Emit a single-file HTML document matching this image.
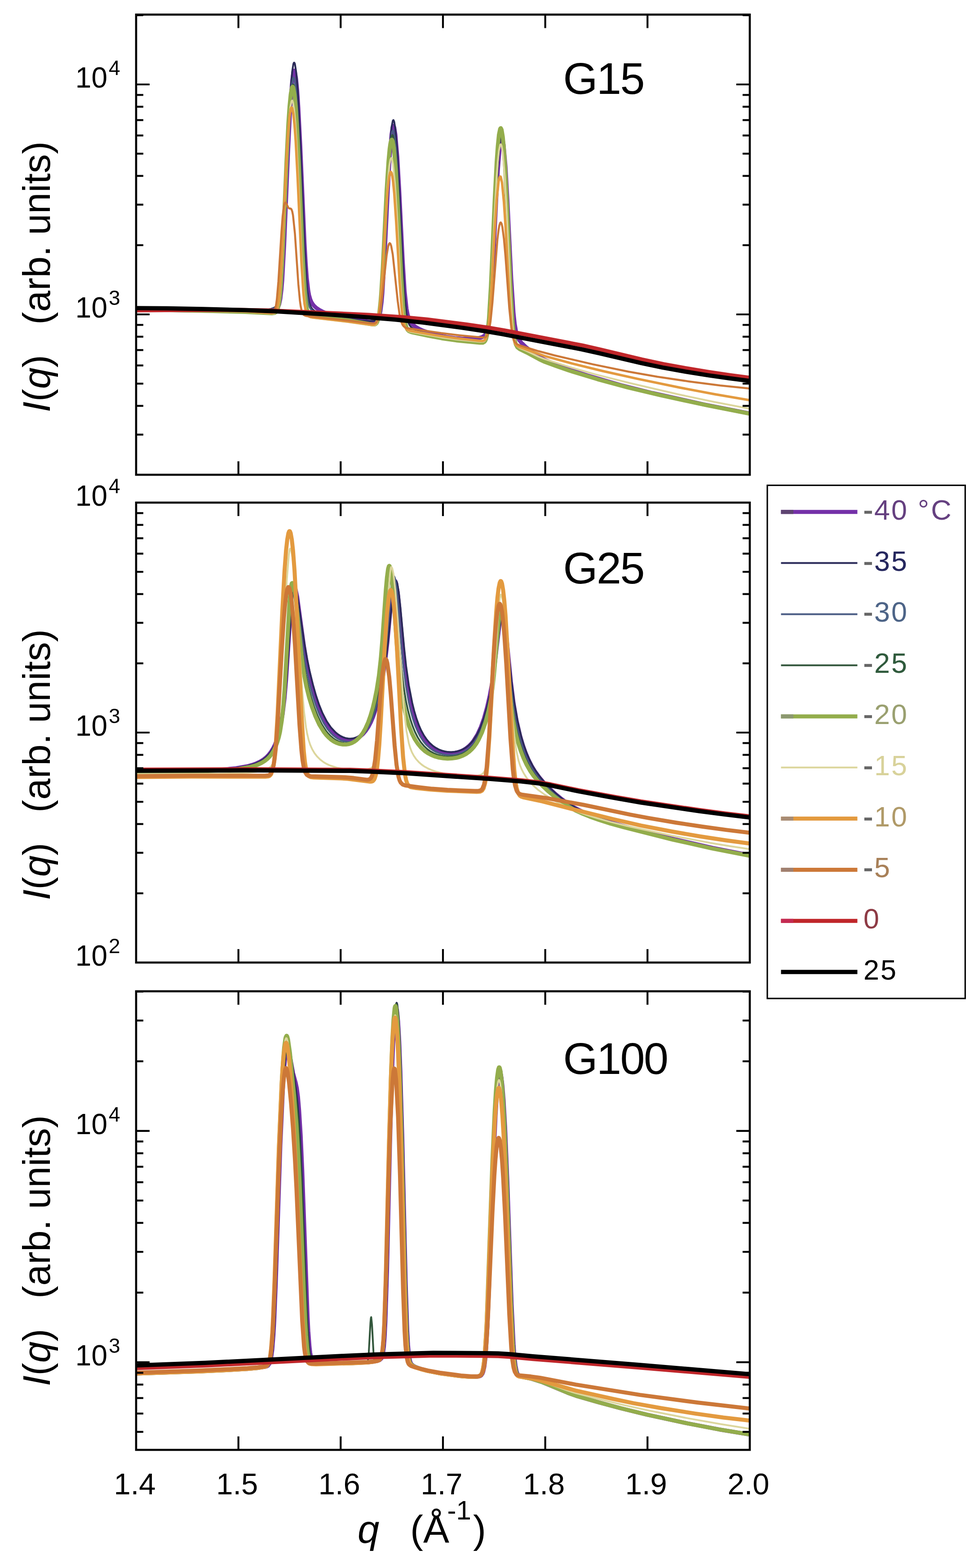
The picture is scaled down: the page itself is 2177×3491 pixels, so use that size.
<!DOCTYPE html><html><head><meta charset="utf-8"><title>I(q) vs q</title>
<style>html,body{margin:0;padding:0;background:#fff;overflow:hidden;width:2177px;height:3491px;}svg{display:block;}text{font-family:'Liberation Sans', Arial, Helvetica, sans-serif;}</style></head><body>
<svg width="2177" height="3491" viewBox="0 0 2177 3491">
<rect width="2177" height="3491" fill="#fff"/>
<defs>
<clipPath id="c0"><rect x="303.0" y="32.5" width="1366.0" height="1024.5"/></clipPath>
<clipPath id="c1"><rect x="303.0" y="1119.0" width="1366.0" height="1024.0"/></clipPath>
<clipPath id="c2"><rect x="303.0" y="2207.0" width="1366.0" height="1021.0"/></clipPath>
</defs>
<polyline clip-path="url(#c0)" points="303.0,689.9 385.0,690.4 581.3,693.6 597.5,693.0 608.6,691.5 614.6,689.3 618.0,685.8 621.4,677.7 624.0,665.4 626.6,644.0 628.3,623.3 632.5,546.4 641.1,340.1 645.4,252.1 647.9,211.0 650.5,180.1 653.0,161.2 653.9,158.3 654.7,157.3 655.6,158.0 656.5,160.1 659.0,175.0 661.6,202.0 664.1,240.2 668.4,324.4 677.8,540.5 680.4,585.8 682.9,619.6 686.3,648.2 688.0,657.2 690.6,666.5 693.2,672.6 696.6,678.0 700.0,681.9 705.1,686.3 711.1,690.3 717.9,693.8 726.5,697.3 735.9,700.2 755.5,704.8 802.4,713.4 822.1,716.4 833.2,717.0 836.6,716.3 839.2,714.8 842.6,709.9 845.1,701.8 846.8,693.0 849.4,672.7 851.1,653.3 855.4,584.4 863.1,425.8 867.3,350.9 871.6,299.1 874.2,282.7 875.0,280.6 875.9,280.2 877.6,283.9 880.1,299.4 884.4,349.6 888.7,424.5 896.4,580.6 900.6,647.5 904.9,687.6 907.5,701.1 910.9,711.7 914.3,717.8 918.6,722.6 924.5,727.3 933.1,732.3 942.5,736.5 953.6,740.5 966.4,744.3 980.9,747.7 997.1,750.8 1012.5,752.9 1027.8,754.2 1043.2,754.6 1055.2,754.2 1065.4,752.8 1073.1,750.6 1078.2,747.4 1080.8,744.4 1082.5,741.4 1085.9,730.6 1088.5,716.0 1091.0,692.9 1096.1,616.2 1104.7,440.9 1108.1,380.5 1112.4,327.0 1114.9,309.9 1116.6,305.8 1117.5,306.1 1118.3,307.8 1120.9,321.6 1125.2,370.3 1129.4,444.5 1138.0,620.6 1143.1,697.5 1145.7,721.0 1149.1,740.3 1153.3,752.7 1155.9,757.2 1160.2,762.7 1170.4,772.4 1184.1,783.3 1197.7,792.8 1210.5,800.1 1229.3,808.4 1252.4,817.5 1278.0,826.5 1307.0,835.9 1381.3,857.4 1452.1,875.0 1566.6,900.4 1669.0,920.5" fill="none" stroke="#7430a8" stroke-width="9.0" stroke-linejoin="round"/>
<polyline clip-path="url(#c0)" points="303.0,689.8 378.1,690.2 516.4,692.1 569.4,691.8 589.0,690.4 602.7,687.9 607.8,686.2 612.1,684.0 614.6,681.9 617.2,678.7 620.6,670.4 623.2,658.5 625.7,638.4 628.3,606.7 632.5,525.6 641.1,315.0 645.4,227.0 647.9,187.1 650.5,158.5 653.0,142.5 653.9,140.1 654.7,139.4 655.6,140.1 656.5,142.5 659.0,158.5 661.6,187.2 664.1,227.2 668.4,315.3 677.8,546.2 682.1,621.7 684.6,649.9 688.0,671.7 689.7,677.9 692.3,684.0 694.9,687.7 698.3,690.9 703.4,694.0 711.1,697.3 729.9,702.5 752.1,706.5 805.9,713.9 822.1,715.0 832.3,714.3 835.7,713.2 838.3,711.5 841.7,706.5 844.3,698.8 846.0,690.5 848.5,671.4 850.3,653.0 854.5,585.9 863.1,406.8 867.3,331.9 871.6,283.1 874.2,269.4 875.0,267.7 875.9,267.4 877.6,271.4 880.1,288.1 884.4,341.1 888.7,419.5 896.4,584.7 900.6,656.5 904.9,698.7 907.5,712.4 910.0,720.5 912.6,725.3 915.1,728.3 919.4,731.6 924.5,734.3 942.5,741.1 966.4,747.6 996.2,753.7 1025.3,757.8 1073.1,762.7 1077.4,762.5 1080.8,760.7 1082.5,758.5 1084.2,754.9 1086.7,744.8 1089.3,726.6 1091.0,708.3 1095.3,639.2 1103.8,449.9 1108.1,371.0 1112.4,319.7 1114.9,304.3 1116.6,300.7 1117.5,301.0 1118.3,302.5 1120.9,315.4 1123.5,340.1 1126.0,376.0 1130.3,456.9 1138.8,648.6 1143.1,718.1 1144.8,736.4 1147.4,755.1 1149.9,765.8 1151.6,770.1 1154.2,774.0 1159.3,777.8 1173.8,785.1 1199.4,799.1 1213.1,805.4 1239.6,815.3 1267.7,825.0 1332.6,844.8 1399.2,862.9 1471.8,880.1 1575.9,902.7 1669.0,920.9" fill="none" stroke="#2a2a58" stroke-width="4.0" stroke-linejoin="round"/>
<polyline clip-path="url(#c0)" points="303.0,689.8 381.5,690.3 520.7,692.5 570.2,692.4 589.0,691.3 602.7,689.1 611.2,686.0 613.8,684.1 616.3,681.2 619.7,673.6 622.3,662.7 624.9,644.0 627.4,614.6 631.7,538.7 640.2,338.1 644.5,253.9 647.1,215.9 649.6,189.1 652.2,174.8 653.0,173.0 653.9,172.7 655.6,176.8 658.2,194.1 662.4,249.4 666.7,332.3 676.1,552.4 680.4,625.3 682.9,652.8 686.3,674.1 689.7,684.6 692.3,688.8 695.7,692.2 700.0,694.9 706.8,697.9 724.8,702.9 741.8,706.2 787.1,713.6 829.8,721.9 834.0,722.3 837.4,721.6 840.0,719.4 841.7,716.4 844.3,707.9 846.0,698.4 848.5,676.2 850.3,655.1 853.7,598.0 861.4,435.6 865.6,359.2 869.9,309.1 872.5,294.0 874.2,290.5 875.0,290.7 875.9,292.3 878.4,304.9 881.0,329.1 883.6,364.2 887.8,442.8 895.5,608.1 899.8,677.4 901.5,696.3 904.0,715.9 905.7,724.2 908.3,731.7 910.0,734.7 912.6,737.2 918.6,739.8 955.3,747.6 986.0,753.4 1017.6,757.8 1069.7,762.9 1076.5,762.7 1079.9,760.7 1081.6,758.2 1083.3,754.1 1085.9,743.0 1088.5,723.2 1090.2,703.6 1094.4,631.0 1102.1,457.7 1106.4,375.3 1108.9,338.3 1111.5,312.4 1114.1,298.2 1114.9,296.2 1115.8,295.5 1116.6,296.2 1117.5,298.3 1120.0,312.5 1122.6,338.6 1125.2,375.8 1129.4,458.7 1138.0,651.8 1142.2,720.3 1143.9,738.2 1146.5,756.2 1149.1,766.4 1150.8,770.4 1153.3,774.1 1158.5,777.8 1173.0,784.9 1200.3,799.8 1213.1,805.7 1240.4,815.8 1268.6,825.4 1333.5,845.2 1400.1,863.2 1472.6,880.4 1576.8,903.0 1669.0,920.9" fill="none" stroke="#4a5c84" stroke-width="4.0" stroke-linejoin="round"/>
<polyline clip-path="url(#c0)" points="303.0,690.0 379.0,690.6 466.1,692.3 547.2,694.5 606.9,697.4 612.9,696.8 616.3,694.2 618.0,691.4 619.7,686.6 622.3,673.9 624.9,651.4 626.6,629.3 630.0,567.5 638.5,362.3 642.8,274.9 645.4,235.6 647.9,207.6 650.5,191.8 652.2,188.1 653.0,188.3 653.9,189.9 656.5,203.1 659.0,228.5 661.6,265.5 665.8,349.8 675.2,575.6 679.5,648.1 681.2,666.7 683.8,685.2 686.3,695.3 688.0,699.0 690.6,702.1 693.2,703.6 697.4,704.6 771.7,712.7 794.8,716.2 830.6,722.7 834.0,722.8 836.6,722.1 839.2,719.7 840.9,716.6 843.4,707.9 845.1,698.2 848.5,665.9 852.8,598.0 860.5,438.6 864.8,364.6 869.0,316.9 871.6,303.2 872.5,301.3 873.3,300.6 874.2,301.3 875.0,303.3 877.6,317.2 881.8,365.2 886.1,439.9 894.6,618.7 898.1,673.1 899.8,692.9 902.3,713.7 904.0,722.7 906.6,731.0 908.3,734.2 910.9,737.1 916.8,739.8 951.9,747.2 982.6,753.0 1015.9,757.9 1069.7,763.1 1076.5,762.9 1079.9,760.7 1081.6,758.2 1083.3,754.0 1085.9,742.6 1088.5,722.3 1090.2,702.3 1094.4,628.5 1102.1,453.3 1106.4,370.5 1108.9,333.3 1111.5,307.3 1114.1,293.1 1114.9,291.1 1115.8,290.4 1116.6,291.1 1117.5,293.2 1120.0,307.4 1122.6,333.6 1125.2,370.9 1129.4,454.3 1138.0,649.5 1142.2,719.2 1143.9,737.4 1146.5,755.8 1149.1,766.3 1150.8,770.4 1153.3,774.2 1158.5,777.9 1173.0,785.1 1200.3,799.9 1213.1,805.8 1239.6,815.6 1267.7,825.3 1332.6,845.0 1399.2,863.1 1471.8,880.3 1575.9,902.9 1669.0,921.0" fill="none" stroke="#33573c" stroke-width="4.0" stroke-linejoin="round"/>
<polyline clip-path="url(#c0)" points="303.0,690.0 378.1,690.5 464.4,692.2 546.3,694.5 606.1,697.4 612.1,696.6 615.5,693.9 618.0,688.6 620.6,677.9 623.2,658.3 624.9,638.7 629.1,564.0 637.7,360.2 641.9,274.9 644.5,236.9 647.1,210.3 649.6,195.9 650.5,193.8 651.3,193.1 652.2,193.8 653.0,195.9 655.6,210.4 658.2,237.0 660.7,275.1 665.0,360.7 673.5,565.9 677.8,641.9 680.4,670.0 682.9,687.0 685.5,696.1 687.2,699.5 689.7,702.3 693.2,703.9 697.4,704.7 776.0,713.3 829.8,722.6 833.2,722.6 835.7,721.8 838.3,719.4 840.0,716.2 842.6,707.3 844.3,697.5 846.8,675.0 848.5,654.0 852.0,597.8 860.5,425.8 864.8,358.8 867.3,331.6 869.0,319.6 870.7,312.7 871.6,311.2 872.5,311.0 874.2,314.5 876.7,329.5 881.0,379.1 885.3,454.3 892.9,612.9 897.2,679.4 898.9,697.5 901.5,716.3 903.2,724.4 905.7,731.7 907.5,734.6 910.0,737.1 916.0,739.6 953.6,747.6 983.4,753.2 1015.9,757.9 1068.0,762.9 1074.8,762.9 1078.2,761.1 1079.9,759.0 1081.6,755.3 1084.2,745.2 1086.7,726.7 1088.5,708.2 1092.7,637.5 1101.3,442.7 1105.5,361.0 1108.1,324.9 1110.6,300.0 1113.2,287.2 1114.1,285.6 1114.9,285.4 1116.6,289.0 1119.2,304.7 1121.7,332.2 1124.3,370.9 1128.6,456.2 1136.3,635.0 1140.5,710.3 1143.1,739.0 1145.7,756.6 1148.2,766.6 1151.6,773.1 1156.8,777.1 1172.1,784.6 1200.3,799.9 1213.1,805.8 1239.6,815.6 1266.9,825.0 1330.1,844.3 1397.5,862.6 1470.1,879.9 1575.1,902.7 1669.0,921.0" fill="none" stroke="#93ad4c" stroke-width="9.0" stroke-linejoin="round"/>
<polyline clip-path="url(#c0)" points="303.0,690.0 392.6,690.7 496.8,693.0 552.3,694.8 606.1,698.3 611.2,697.7 614.6,695.2 616.3,692.4 618.0,687.7 620.6,675.3 623.2,653.7 624.9,632.6 628.3,574.1 636.8,380.8 641.1,299.4 643.6,263.4 646.2,238.6 648.8,225.7 649.6,224.1 650.5,223.9 652.2,227.6 654.7,243.2 657.3,270.6 659.9,309.1 664.1,393.9 671.8,570.7 676.1,644.4 678.7,672.1 681.2,689.1 682.9,695.9 684.6,700.4 686.3,703.2 688.9,705.5 692.3,706.9 696.6,707.7 772.6,716.8 828.1,724.8 832.3,724.8 834.9,724.1 837.4,721.9 839.2,719.1 841.7,711.3 843.4,702.7 846.0,682.9 847.7,664.3 851.1,614.2 862.2,416.6 866.5,369.5 869.0,355.2 870.7,351.9 871.6,352.1 872.5,353.6 875.0,365.6 879.3,409.4 883.6,477.8 891.2,622.9 895.5,683.5 897.2,700.1 899.8,717.4 901.5,724.9 904.0,731.8 905.7,734.4 908.3,736.8 914.3,739.1 983.4,751.4 1016.7,755.9 1068.8,761.0 1075.6,760.8 1079.1,758.9 1080.8,756.6 1082.5,752.7 1085.0,742.3 1087.6,723.8 1089.3,705.5 1093.6,637.4 1101.3,473.1 1105.5,394.7 1108.1,359.7 1110.6,335.5 1113.2,322.9 1114.1,321.4 1114.9,321.2 1116.6,324.8 1119.2,340.1 1123.5,390.7 1127.7,468.2 1136.3,651.9 1140.5,718.2 1142.2,735.7 1144.8,753.5 1147.4,763.7 1149.1,767.8 1151.6,771.4 1156.8,774.9 1172.1,781.5 1199.4,794.4 1211.4,799.2 1266.0,816.7 1325.8,833.6 1402.6,853.0 1511.1,878.2 1590.5,895.0 1669.0,910.0" fill="none" stroke="#dcd69c" stroke-width="4.0" stroke-linejoin="round"/>
<polyline clip-path="url(#c0)" points="303.0,689.0 392.6,689.7 496.8,692.0 552.3,693.8 605.2,697.2 610.4,696.6 613.8,694.1 615.5,691.3 617.2,686.6 619.7,674.4 622.3,653.1 624.0,632.5 627.4,575.4 636.0,387.8 640.2,309.3 644.5,258.2 647.1,242.8 648.8,239.3 649.6,239.5 650.5,241.1 653.0,253.9 655.6,278.5 658.2,314.1 662.4,394.5 671.0,583.6 675.2,651.1 677.8,675.8 680.4,690.6 682.9,698.7 684.6,701.7 687.2,704.2 690.6,705.7 695.7,706.7 773.4,715.8 827.2,723.1 831.5,723.2 834.0,722.5 836.6,720.5 838.3,717.9 840.9,710.9 842.6,703.2 845.1,685.5 846.8,668.7 850.3,623.3 858.8,478.1 862.2,430.1 864.8,404.0 866.5,392.1 868.2,384.9 869.0,383.1 869.9,382.6 871.6,385.1 873.3,392.4 875.0,404.4 877.6,430.7 881.8,493.1 889.5,627.1 893.8,683.5 895.5,699.1 898.1,715.4 899.8,722.5 902.3,729.2 905.7,733.5 908.3,735.0 911.7,736.2 969.8,746.2 1012.5,752.5 1067.1,758.7 1073.9,759.1 1078.2,757.7 1079.9,756.0 1081.6,753.2 1084.2,745.7 1086.7,731.9 1089.3,709.7 1093.6,651.3 1101.3,511.2 1105.5,445.5 1109.8,404.4 1111.5,396.2 1113.2,392.9 1114.1,393.1 1114.9,394.6 1117.5,406.5 1121.7,449.8 1125.2,502.4 1133.7,659.5 1138.0,718.3 1140.5,740.8 1143.1,754.9 1145.7,763.0 1147.4,766.3 1149.9,769.2 1155.9,772.4 1212.2,792.6 1273.7,809.4 1341.2,826.0 1418.9,843.4 1513.6,863.0 1591.3,877.7 1669.0,891.0" fill="none" stroke="#e39a3f" stroke-width="5.5" stroke-linejoin="round"/>
<polyline clip-path="url(#c0)" points="303.0,688.0 390.1,688.7 490.0,690.9 549.7,692.7 602.7,696.0 606.1,695.8 608.6,694.6 611.2,691.1 612.9,686.3 614.6,678.3 616.3,666.1 619.7,626.7 626.6,515.6 629.1,482.3 631.7,460.8 633.4,453.4 635.1,450.8 636.8,452.1 641.9,462.4 643.6,463.9 647.1,464.4 648.8,466.1 650.5,470.6 652.2,479.1 656.5,520.2 664.1,632.4 667.6,669.5 669.3,681.8 671.8,693.3 674.4,699.2 676.9,701.8 680.4,703.3 685.5,704.1 775.1,713.8 826.3,720.0 833.2,719.9 837.4,717.8 840.0,714.4 842.6,708.3 846.8,689.1 851.1,656.7 860.5,569.4 863.9,549.1 865.6,543.5 867.3,541.3 869.0,542.6 870.7,547.2 874.2,566.1 885.3,670.2 889.5,700.7 893.8,718.1 896.4,723.7 898.9,726.9 903.2,729.6 909.2,731.1 981.7,741.6 1021.9,746.4 1072.2,751.3 1079.1,751.1 1081.6,749.9 1083.3,748.3 1086.7,741.6 1089.3,731.8 1091.9,715.9 1096.1,674.3 1107.2,533.2 1109.8,511.8 1111.5,502.1 1113.2,496.6 1114.1,495.4 1114.9,495.3 1116.6,498.2 1118.3,505.4 1121.7,531.6 1125.2,570.8 1133.7,686.8 1138.0,728.6 1140.5,744.5 1143.1,754.7 1146.5,762.2 1150.8,766.3 1156.8,768.9 1198.6,781.8 1234.4,791.2 1319.8,811.1 1399.2,827.5 1463.2,838.8 1533.3,849.2 1603.3,858.2 1669.0,865.0" fill="none" stroke="#cc7838" stroke-width="4.5" stroke-linejoin="round"/>
<polyline clip-path="url(#c0)" points="303.0,691.0 399.5,690.2 531.0,690.0 594.1,691.1 746.1,697.4 820.4,701.1 898.1,706.2 951.0,711.2 1038.9,722.5 1086.7,729.5 1121.7,735.4 1296.8,769.2 1336.0,778.1 1429.1,800.5 1476.9,810.7 1528.1,820.0 1577.6,828.2 1624.6,835.2 1669.0,841.0" fill="none" stroke="#c0262a" stroke-width="9.0" stroke-linejoin="round"/>
<polyline clip-path="url(#c0)" points="303.0,686.0 372.2,686.5 452.4,688.0 547.2,690.5 610.4,693.1 723.9,699.7 799.9,704.9 879.3,711.5 941.6,718.1 1027.8,729.6 1082.5,737.8 1116.6,743.6 1295.1,777.8 1333.5,786.3 1427.4,808.4 1475.2,818.4 1526.4,827.5 1576.8,835.6 1623.8,842.3 1669.0,848.0" fill="none" stroke="#000000" stroke-width="9.5" stroke-linejoin="round"/>
<polyline clip-path="url(#c1)" points="303.0,1719.2 385.8,1717.9 446.4,1716.2 491.7,1713.7 525.0,1710.5 550.6,1706.0 560.8,1703.2 570.2,1699.9 578.8,1695.8 585.6,1691.7 592.4,1686.3 598.4,1680.1 603.5,1673.4 607.8,1666.4 612.1,1657.7 616.3,1646.8 623.2,1622.7 629.1,1590.1 633.4,1554.4 636.8,1514.2 648.8,1331.9 651.3,1309.9 652.2,1305.9 653.0,1303.7 653.9,1303.4 655.6,1305.0 657.3,1309.1 661.6,1328.8 676.1,1435.8 681.2,1466.8 686.3,1492.7 693.2,1521.8 700.0,1546.6 707.7,1570.0 715.4,1589.1 724.8,1607.6 734.1,1621.6 744.4,1632.8 749.5,1637.1 755.5,1641.1 761.5,1644.1 767.4,1646.1 773.4,1647.3 779.4,1647.5 785.4,1646.9 791.3,1645.2 797.3,1642.5 802.4,1639.1 808.4,1633.8 814.4,1626.8 820.4,1617.7 825.5,1607.9 830.6,1595.7 835.7,1580.8 844.3,1548.4 852.0,1509.1 857.9,1468.6 862.2,1431.1 870.7,1339.6 874.2,1310.2 876.7,1297.0 878.4,1293.3 879.3,1293.1 880.1,1294.0 881.8,1298.7 885.3,1319.2 888.7,1351.5 897.2,1448.4 901.5,1489.3 906.6,1527.1 913.4,1564.1 917.7,1582.2 922.8,1600.2 927.9,1614.8 933.1,1626.9 939.0,1638.3 945.9,1648.5 952.7,1656.5 960.4,1663.3 966.4,1667.5 973.2,1671.1 980.0,1673.8 987.7,1675.8 995.4,1677.0 1003.1,1677.2 1010.8,1676.6 1018.4,1675.0 1025.3,1672.8 1031.2,1670.0 1037.2,1666.3 1043.2,1661.6 1048.3,1656.5 1053.4,1650.3 1062.8,1635.4 1070.5,1618.6 1077.4,1599.2 1084.2,1574.7 1090.2,1548.4 1095.3,1521.3 1099.5,1493.5 1112.4,1384.9 1115.8,1368.1 1117.5,1365.0 1118.3,1364.8 1120.0,1367.4 1121.7,1373.7 1125.2,1395.9 1137.1,1516.8 1143.1,1565.0 1149.9,1604.6 1157.6,1637.7 1163.6,1658.2 1169.6,1675.2 1176.4,1691.4 1183.2,1704.8 1190.9,1717.5 1200.3,1730.4 1210.5,1742.5 1222.5,1755.0 1236.1,1767.6 1249.8,1778.7 1263.5,1788.6 1277.1,1797.3 1289.1,1803.6 1307.0,1811.8 1325.8,1819.3 1345.4,1826.3 1370.2,1834.1 1400.1,1842.5 1503.4,1869.0 1587.0,1887.9 1669.0,1904.2" fill="none" stroke="#7430a8" stroke-width="9.0" stroke-linejoin="round"/>
<polyline clip-path="url(#c1)" points="303.0,1719.1 385.0,1717.8 445.6,1716.0 490.8,1713.5 525.0,1710.0 550.6,1705.5 560.8,1702.7 570.2,1699.3 578.8,1695.3 585.6,1691.1 592.4,1685.7 598.4,1679.6 603.5,1673.0 608.6,1664.6 612.9,1655.7 617.2,1644.6 624.0,1620.2 630.0,1587.9 634.3,1553.5 637.7,1515.4 649.6,1339.6 652.2,1316.6 653.9,1309.4 654.7,1308.4 656.5,1309.6 658.2,1312.9 662.4,1330.2 678.7,1439.5 683.8,1468.1 689.7,1496.6 696.6,1524.6 703.4,1548.5 710.2,1568.8 717.9,1587.7 727.3,1605.8 736.7,1619.6 747.0,1630.6 752.1,1634.8 758.0,1638.6 763.2,1641.1 769.1,1643.1 775.1,1644.3 781.1,1644.5 787.1,1643.7 792.2,1642.2 798.2,1639.5 803.3,1636.1 809.3,1630.9 815.3,1623.9 821.2,1614.8 826.3,1605.1 831.5,1593.0 836.6,1578.3 845.1,1546.4 852.0,1512.6 857.9,1475.4 863.9,1427.5 875.0,1319.1 878.4,1298.7 880.1,1294.0 881.0,1293.1 881.8,1293.3 882.7,1294.4 884.4,1299.6 887.8,1320.2 891.2,1351.4 899.8,1443.6 904.0,1482.8 910.0,1525.4 917.7,1565.2 922.0,1582.5 927.1,1599.8 932.2,1614.0 937.3,1625.7 943.3,1636.8 949.3,1645.7 956.1,1653.7 963.8,1660.7 969.8,1664.8 976.6,1668.5 983.4,1671.2 990.3,1673.0 997.1,1674.1 1004.8,1674.4 1012.5,1673.8 1019.3,1672.4 1026.1,1670.2 1032.1,1667.4 1038.1,1663.7 1043.2,1659.6 1048.3,1654.7 1053.4,1648.6 1062.8,1633.9 1070.5,1617.3 1077.4,1598.3 1084.2,1574.1 1090.2,1548.3 1095.3,1522.1 1100.4,1490.4 1113.2,1389.9 1116.6,1373.7 1118.3,1370.3 1119.2,1369.9 1120.9,1371.7 1122.6,1377.1 1126.0,1397.1 1138.8,1518.5 1144.8,1564.2 1152.5,1607.1 1161.0,1642.4 1167.0,1661.9 1173.0,1678.2 1179.8,1693.8 1186.6,1706.8 1194.3,1719.0 1203.7,1731.8 1214.0,1743.9 1225.9,1756.2 1238.7,1768.0 1252.4,1779.2 1266.0,1789.0 1279.7,1797.5 1293.4,1804.6 1310.4,1812.3 1329.2,1819.8 1348.8,1826.7 1373.6,1834.4 1403.5,1842.8 1459.8,1857.7 1505.1,1869.0 1587.9,1887.8 1669.0,1903.9" fill="none" stroke="#2a2a58" stroke-width="4.0" stroke-linejoin="round"/>
<polyline clip-path="url(#c1)" points="303.0,1719.4 386.7,1718.2 448.1,1716.5 493.4,1714.1 526.7,1711.0 552.3,1706.5 562.5,1703.8 571.9,1700.4 580.5,1696.4 587.3,1692.1 593.3,1687.3 599.3,1681.1 604.4,1674.3 608.6,1667.1 612.9,1658.1 616.3,1649.3 619.7,1638.4 623.2,1624.9 628.3,1596.6 631.7,1568.6 635.1,1529.4 647.1,1339.2 649.6,1313.7 651.3,1305.0 652.2,1303.4 653.9,1304.3 655.6,1307.9 657.3,1314.1 659.9,1327.7 674.4,1443.7 678.7,1471.7 682.9,1494.7 688.9,1521.5 695.7,1547.1 703.4,1571.2 711.1,1590.9 720.5,1609.9 729.9,1624.3 735.0,1630.6 741.0,1636.6 746.1,1640.8 752.1,1644.8 758.0,1647.8 764.9,1650.1 771.7,1651.3 777.7,1651.4 783.7,1650.5 789.6,1648.7 795.6,1645.9 800.7,1642.4 807.6,1636.2 814.4,1627.6 820.4,1617.8 825.5,1607.2 830.6,1594.1 835.7,1578.1 844.3,1543.3 850.3,1511.3 855.4,1476.0 860.5,1428.0 870.7,1311.0 874.2,1288.2 875.9,1283.4 876.7,1282.8 877.6,1283.4 879.3,1287.7 882.7,1308.4 886.1,1342.2 893.8,1436.7 898.1,1482.7 903.2,1524.6 910.0,1563.8 914.3,1582.4 919.4,1600.9 924.5,1616.0 929.7,1628.3 935.6,1640.0 942.5,1650.4 949.3,1658.6 957.0,1665.6 963.8,1670.5 970.6,1674.2 978.3,1677.2 986.0,1679.3 993.7,1680.6 1002.2,1681.0 1010.8,1680.4 1018.4,1679.0 1025.3,1677.0 1032.1,1674.0 1038.1,1670.5 1044.1,1666.0 1050.0,1660.2 1055.2,1654.1 1060.3,1646.7 1064.5,1639.2 1072.2,1622.5 1079.9,1600.2 1086.7,1574.9 1092.7,1547.4 1097.0,1522.9 1100.4,1498.4 1112.4,1387.0 1115.8,1368.4 1117.5,1365.0 1118.3,1364.8 1120.0,1367.6 1121.7,1374.2 1125.2,1397.9 1136.3,1517.7 1141.4,1563.2 1147.4,1601.3 1155.0,1636.4 1161.0,1657.5 1167.0,1675.0 1173.8,1691.5 1180.7,1705.2 1188.3,1718.0 1196.9,1729.8 1207.1,1742.0 1219.1,1754.4 1232.7,1767.0 1247.2,1778.8 1261.8,1789.3 1275.4,1797.9 1288.2,1804.7 1305.3,1812.4 1323.2,1819.5 1342.9,1826.5 1367.6,1834.2 1397.5,1842.6 1502.5,1869.3 1587.0,1888.4 1669.0,1904.5" fill="none" stroke="#4a5c84" stroke-width="4.0" stroke-linejoin="round"/>
<polyline clip-path="url(#c1)" points="303.0,1719.6 387.5,1718.4 449.0,1716.8 494.2,1714.6 528.4,1711.5 554.0,1707.1 564.2,1704.4 573.6,1701.1 581.3,1697.5 588.2,1693.2 594.1,1688.5 600.1,1682.3 605.2,1675.4 609.5,1668.0 613.8,1658.8 617.2,1649.6 623.2,1627.5 628.3,1597.2 631.7,1565.7 634.3,1533.4 646.2,1336.3 648.8,1311.9 650.5,1304.3 651.3,1303.3 653.0,1304.8 654.7,1309.2 659.0,1331.9 672.7,1451.6 676.1,1476.3 680.4,1501.3 685.5,1525.3 692.3,1551.3 699.1,1573.1 706.8,1593.2 716.2,1612.6 725.6,1627.2 730.7,1633.5 736.7,1639.6 741.8,1643.9 747.8,1647.9 753.8,1650.9 760.6,1653.2 767.4,1654.4 773.4,1654.5 780.2,1653.5 786.2,1651.7 792.2,1648.7 797.3,1645.2 804.2,1638.8 811.0,1630.1 817.0,1620.1 822.1,1609.3 827.2,1596.0 832.3,1579.7 837.4,1559.8 841.7,1540.0 847.7,1505.4 852.8,1464.6 857.1,1417.6 863.9,1328.4 867.3,1293.1 869.9,1277.3 871.6,1272.9 872.5,1272.7 873.3,1273.6 875.0,1279.0 878.4,1302.4 881.8,1339.5 889.5,1441.5 893.8,1489.9 898.1,1526.4 904.0,1562.7 908.3,1582.2 913.4,1601.3 918.6,1616.8 923.7,1629.5 929.7,1641.5 936.5,1652.2 944.2,1661.4 951.9,1668.5 958.7,1673.3 965.5,1677.0 973.2,1680.2 981.7,1682.6 990.3,1684.0 999.7,1684.5 1008.2,1684.1 1016.7,1682.7 1024.4,1680.5 1031.2,1677.6 1038.1,1673.7 1044.1,1669.3 1050.0,1663.6 1055.2,1657.6 1060.3,1650.2 1064.5,1642.8 1072.2,1626.2 1079.9,1604.0 1086.7,1578.8 1092.7,1550.7 1097.0,1524.2 1100.4,1496.3 1111.5,1381.9 1113.2,1370.3 1114.9,1362.7 1115.8,1360.6 1116.6,1359.7 1117.5,1359.9 1119.2,1363.5 1120.9,1371.2 1124.3,1397.6 1134.6,1516.8 1139.7,1566.1 1144.8,1601.0 1151.6,1633.8 1156.8,1652.9 1162.7,1671.4 1169.6,1688.7 1176.4,1703.0 1184.1,1716.3 1191.8,1727.3 1202.0,1739.8 1214.0,1752.3 1227.6,1765.0 1242.1,1776.9 1257.5,1788.2 1272.0,1797.5 1284.8,1804.5 1300.2,1811.5 1319.0,1819.1 1338.6,1826.0 1363.4,1833.8 1393.2,1842.2 1500.0,1869.3 1586.2,1888.6 1669.0,1904.9" fill="none" stroke="#33573c" stroke-width="4.0" stroke-linejoin="round"/>
<polyline clip-path="url(#c1)" points="303.0,1719.8 389.2,1718.6 451.6,1717.1 497.7,1714.9 531.0,1711.9 555.7,1707.8 566.0,1705.2 574.5,1702.2 582.2,1698.6 589.0,1694.5 595.0,1689.8 601.0,1683.6 605.2,1677.9 609.5,1670.8 613.8,1661.8 617.2,1652.6 620.6,1641.1 623.2,1630.0 627.4,1603.6 630.8,1570.2 633.4,1535.3 644.5,1339.4 647.9,1305.1 648.8,1300.9 649.6,1298.6 650.5,1298.2 652.2,1300.4 653.9,1305.8 657.3,1325.4 660.7,1354.6 671.0,1457.7 674.4,1485.1 677.8,1507.2 682.1,1529.0 688.0,1553.0 694.9,1575.3 701.7,1593.8 711.1,1614.0 720.5,1629.2 725.6,1635.8 731.6,1642.1 737.6,1647.2 743.5,1651.2 749.5,1654.1 756.3,1656.4 763.2,1657.6 770.0,1657.6 776.8,1656.5 782.8,1654.5 788.8,1651.3 793.9,1647.6 800.7,1641.0 807.6,1631.9 813.5,1621.4 819.5,1608.0 824.6,1593.5 829.8,1575.8 834.0,1558.0 838.3,1536.9 843.4,1504.4 847.7,1466.0 851.1,1424.5 858.8,1313.9 861.4,1285.0 863.9,1266.3 865.6,1260.5 866.5,1259.8 867.3,1260.4 869.0,1265.3 872.5,1289.0 875.9,1328.1 883.6,1439.4 887.8,1492.7 892.1,1532.0 897.2,1564.8 901.5,1585.0 905.7,1601.5 910.9,1617.6 916.8,1632.7 922.8,1644.7 929.7,1655.4 937.3,1664.7 945.0,1671.7 952.7,1677.1 960.4,1681.1 968.9,1684.5 977.5,1686.8 986.9,1688.3 996.2,1688.9 1005.6,1688.6 1015.0,1687.3 1022.7,1685.3 1030.4,1682.4 1037.2,1678.7 1044.1,1673.9 1050.0,1668.5 1055.2,1662.7 1060.3,1655.6 1065.4,1646.9 1073.1,1630.3 1080.8,1608.1 1087.6,1582.4 1092.7,1557.1 1096.1,1534.3 1099.5,1503.7 1110.6,1376.8 1113.2,1360.2 1114.9,1355.1 1115.8,1354.5 1117.5,1356.9 1119.2,1363.7 1122.6,1389.5 1133.7,1527.5 1138.0,1571.3 1142.2,1603.0 1148.2,1633.8 1153.3,1653.5 1159.3,1672.2 1165.3,1687.7 1172.1,1702.3 1179.8,1715.9 1187.5,1727.1 1196.9,1738.5 1207.1,1749.3 1220.8,1762.1 1236.1,1774.9 1252.4,1786.9 1267.7,1796.9 1280.5,1804.1 1294.2,1810.5 1313.0,1818.2 1333.5,1825.5 1359.1,1833.6 1389.0,1842.0 1497.4,1869.3 1584.5,1888.8 1669.0,1905.3" fill="none" stroke="#93ad4c" stroke-width="9.0" stroke-linejoin="round"/>
<polyline clip-path="url(#c1)" points="303.0,1723.6 472.0,1722.8 516.4,1721.9 548.0,1720.5 571.1,1718.3 587.3,1714.9 593.3,1712.9 598.4,1710.3 601.8,1707.8 605.2,1703.9 609.5,1694.8 612.9,1680.6 615.5,1663.3 618.0,1638.5 623.2,1564.6 633.4,1373.1 638.5,1290.3 642.8,1236.2 644.5,1223.9 645.4,1221.6 646.2,1221.6 647.9,1224.9 650.5,1237.1 653.0,1257.2 655.6,1284.2 659.9,1341.0 672.7,1537.2 676.9,1585.6 681.2,1619.5 683.8,1633.8 687.2,1648.0 690.6,1658.4 694.9,1668.0 700.0,1676.7 706.0,1684.4 712.8,1691.2 720.5,1697.0 727.3,1700.9 735.0,1704.5 752.1,1709.8 773.4,1713.5 796.5,1714.9 812.7,1713.9 819.5,1712.5 824.6,1710.7 828.1,1708.7 831.5,1705.4 834.0,1701.1 835.7,1696.9 838.3,1687.6 840.9,1673.1 845.1,1633.7 849.4,1573.5 858.8,1409.0 863.9,1329.4 868.2,1276.8 869.9,1264.8 870.7,1262.5 871.6,1262.6 873.3,1265.8 875.9,1277.8 880.1,1314.2 885.3,1378.6 897.2,1553.2 900.6,1592.0 904.9,1627.6 910.0,1654.5 913.4,1666.1 916.8,1674.6 921.1,1682.6 926.2,1690.0 932.2,1696.7 938.2,1702.0 945.0,1706.8 951.9,1710.6 960.4,1714.4 969.8,1717.7 992.0,1723.1 1017.6,1726.7 1044.1,1728.2 1055.2,1728.0 1063.7,1727.0 1068.8,1725.7 1073.1,1723.6 1076.5,1720.3 1079.1,1716.1 1082.5,1705.9 1085.0,1693.2 1087.6,1674.6 1090.2,1649.0 1094.4,1591.8 1108.1,1380.5 1112.4,1332.9 1114.1,1324.4 1114.9,1323.9 1116.6,1326.4 1119.2,1337.1 1123.5,1371.0 1127.7,1420.5 1140.5,1595.1 1144.8,1638.7 1149.1,1669.5 1154.2,1693.2 1157.6,1703.9 1161.0,1712.3 1165.3,1720.7 1171.3,1730.4 1178.1,1739.5 1184.9,1747.1 1196.9,1757.8 1212.2,1769.0 1230.2,1780.3 1249.8,1791.1 1266.9,1799.4 1284.0,1806.5 1305.3,1814.0 1329.2,1821.5 1359.9,1830.1 1394.9,1838.7 1493.1,1860.0 1584.5,1877.2 1627.2,1884.3 1669.0,1890.5" fill="none" stroke="#dcd69c" stroke-width="4.0" stroke-linejoin="round"/>
<polyline clip-path="url(#c1)" points="303.0,1730.0 426.8,1729.1 590.7,1729.2 595.8,1728.8 599.3,1727.8 601.8,1725.9 603.5,1723.6 606.9,1714.5 609.5,1701.3 613.8,1659.8 618.0,1589.2 628.3,1363.5 633.4,1270.0 636.8,1224.9 639.4,1201.4 641.9,1187.2 643.6,1183.0 644.5,1182.5 645.4,1183.0 647.1,1187.2 649.6,1201.5 652.2,1224.9 655.6,1270.0 660.7,1363.6 671.0,1589.7 676.1,1671.3 678.7,1696.2 681.2,1712.1 684.6,1723.3 686.3,1726.3 688.9,1728.9 692.3,1730.4 698.3,1731.1 758.9,1733.0 774.3,1734.0 823.8,1740.3 827.2,1740.1 829.8,1739.1 832.3,1736.5 834.0,1733.4 836.6,1725.3 839.2,1711.2 841.7,1689.2 844.3,1657.9 847.7,1603.0 856.2,1442.2 861.4,1365.9 865.6,1326.8 868.2,1315.7 869.9,1313.6 871.6,1315.7 874.2,1327.0 876.7,1347.6 879.3,1377.0 883.6,1443.1 892.9,1621.3 897.2,1685.2 901.5,1724.2 904.0,1737.1 906.6,1744.7 910.0,1749.8 912.6,1751.7 916.0,1752.9 926.2,1754.5 957.0,1757.7 995.4,1760.5 1061.1,1763.0 1068.8,1762.6 1073.1,1760.3 1076.5,1755.1 1079.9,1743.2 1082.5,1727.0 1085.0,1702.5 1089.3,1641.2 1099.5,1442.9 1104.7,1361.2 1107.2,1331.3 1109.8,1309.8 1112.4,1297.2 1114.1,1293.8 1114.9,1293.7 1115.8,1294.5 1117.5,1299.3 1120.0,1314.0 1122.6,1337.5 1125.2,1369.3 1130.3,1454.4 1139.7,1639.9 1144.8,1714.7 1147.4,1738.3 1149.9,1753.9 1153.3,1765.6 1156.8,1771.1 1160.2,1773.6 1164.4,1775.1 1207.1,1784.1 1276.3,1801.9 1365.9,1824.0 1427.4,1838.2 1494.0,1851.0 1557.2,1862.0 1614.4,1870.8 1669.0,1878.0" fill="none" stroke="#e39a3f" stroke-width="9.0" stroke-linejoin="round"/>
<polyline clip-path="url(#c1)" points="303.0,1728.0 421.7,1727.1 589.9,1727.1 597.5,1726.3 600.1,1725.1 602.7,1722.6 606.1,1715.8 608.6,1706.0 611.2,1690.2 613.8,1666.8 618.0,1609.7 627.4,1444.1 631.7,1379.1 634.3,1348.9 636.8,1326.4 639.4,1312.3 641.1,1307.8 641.9,1307.0 642.8,1307.1 644.5,1310.4 647.1,1322.6 649.6,1343.2 652.2,1371.8 656.5,1434.6 666.7,1614.5 671.0,1670.4 673.5,1693.0 676.1,1708.2 679.5,1719.6 682.9,1725.0 686.3,1727.2 692.3,1728.3 768.3,1730.4 787.1,1732.1 816.1,1736.0 819.5,1735.9 822.1,1735.2 825.5,1732.3 828.1,1727.5 830.6,1718.9 834.9,1692.6 839.2,1649.1 846.8,1548.6 851.1,1501.8 853.7,1482.2 855.4,1473.5 857.1,1468.4 857.9,1467.4 858.8,1467.2 860.5,1469.9 862.2,1476.3 866.5,1507.9 869.9,1546.4 878.4,1659.7 882.7,1703.0 887.0,1728.9 889.5,1737.5 892.1,1742.6 896.4,1746.7 902.3,1748.7 932.2,1752.7 962.1,1756.1 996.2,1758.6 1056.9,1761.0 1065.4,1760.9 1069.7,1759.7 1072.2,1757.8 1073.9,1755.5 1077.4,1746.9 1080.8,1729.6 1083.3,1708.3 1088.5,1641.4 1097.8,1476.3 1102.1,1412.6 1104.7,1383.3 1107.2,1361.8 1109.8,1348.7 1111.5,1344.8 1112.4,1344.3 1113.2,1344.8 1114.9,1348.7 1117.5,1361.9 1120.0,1383.5 1122.6,1413.0 1126.9,1477.0 1136.3,1643.7 1141.4,1712.0 1143.9,1734.0 1146.5,1748.7 1149.9,1759.9 1151.6,1763.1 1154.2,1766.0 1157.6,1768.0 1161.9,1769.1 1215.7,1776.8 1299.3,1792.0 1402.6,1813.7 1442.8,1821.2 1505.9,1831.7 1564.0,1840.5 1617.8,1847.9 1669.0,1854.0" fill="none" stroke="#cc7838" stroke-width="9.0" stroke-linejoin="round"/>
<polyline clip-path="url(#c1)" points="303.0,1713.5 548.0,1712.5 779.4,1713.8 826.3,1715.4 902.3,1719.1 1088.5,1731.6 1160.2,1737.3 1200.3,1741.8 1225.9,1746.3 1288.2,1759.4 1371.0,1774.7 1426.5,1784.2 1555.5,1803.3 1613.5,1810.9 1669.0,1817.5" fill="none" stroke="#c0262a" stroke-width="9.0" stroke-linejoin="round"/>
<polyline clip-path="url(#c1)" points="303.0,1716.0 548.0,1715.0 779.4,1716.3 826.3,1717.9 902.3,1721.6 1088.5,1734.1 1160.2,1739.8 1200.3,1744.3 1225.9,1748.8 1288.2,1761.9 1371.0,1777.2 1426.5,1786.7 1555.5,1805.8 1613.5,1813.4 1669.0,1820.0" fill="none" stroke="#000000" stroke-width="9.5" stroke-linejoin="round"/>
<polyline clip-path="url(#c2)" points="303.0,3057.9 440.5,3053.3 507.0,3050.3 550.6,3047.7 575.3,3045.4 590.7,3043.0 594.1,3041.9 596.7,3040.3 600.1,3035.7 601.8,3031.2 603.5,3024.0 606.1,3005.4 608.6,2973.4 610.4,2942.7 613.8,2859.3 624.0,2550.5 630.0,2417.5 632.5,2378.8 635.1,2351.5 637.7,2335.7 638.5,2333.0 639.4,2331.6 640.2,2331.5 641.9,2334.4 643.6,2340.8 652.2,2388.6 658.2,2410.6 660.7,2422.6 663.3,2442.3 665.8,2471.9 669.3,2528.3 672.7,2604.1 684.6,2931.2 686.3,2963.5 688.9,2997.8 690.6,3012.3 693.2,3025.1 695.7,3031.2 699.1,3034.4 705.1,3035.8 717.1,3036.1 784.5,3034.8 818.7,3033.2 830.6,3031.8 840.0,3029.9 845.1,3028.1 848.5,3025.2 850.3,3022.1 852.0,3016.6 854.5,2999.2 856.2,2977.1 857.9,2942.8 861.4,2833.6 868.2,2542.5 872.5,2391.2 875.0,2324.2 877.6,2277.0 880.1,2250.5 881.0,2246.4 881.8,2244.9 882.7,2245.8 883.6,2249.2 886.1,2273.9 888.7,2319.3 891.2,2384.7 895.5,2534.0 903.2,2861.2 906.6,2963.8 908.3,2994.6 910.0,3014.1 912.6,3029.3 914.3,3034.3 916.0,3037.2 920.3,3040.9 927.1,3044.3 938.2,3048.2 952.7,3052.1 980.0,3057.6 1026.1,3063.8 1049.2,3065.5 1058.6,3065.4 1065.4,3064.7 1068.8,3063.7 1071.4,3062.0 1073.9,3058.5 1075.6,3054.2 1078.2,3042.7 1080.8,3021.6 1085.0,2954.5 1088.5,2870.8 1097.8,2599.8 1103.0,2485.4 1105.5,2443.9 1108.1,2413.5 1110.6,2394.9 1112.4,2389.5 1113.2,2389.1 1114.1,2390.1 1115.8,2396.7 1118.3,2416.9 1120.9,2448.8 1124.3,2508.6 1129.4,2631.7 1138.8,2902.7 1143.1,2992.3 1144.8,3015.9 1147.4,3039.5 1149.9,3052.6 1151.6,3057.6 1153.3,3060.6 1155.9,3063.1 1159.3,3064.6 1183.2,3069.7 1205.4,3076.7 1262.6,3100.4 1282.3,3107.6 1331.8,3121.9 1382.1,3135.5 1440.2,3149.6 1529.8,3168.9 1601.6,3182.7 1669.0,3193.9" fill="none" stroke="#7430a8" stroke-width="9.0" stroke-linejoin="round"/>
<polyline clip-path="url(#c2)" points="303.0,3057.9 441.3,3053.3 507.9,3050.3 551.4,3047.7 576.2,3045.4 591.6,3042.9 595.0,3041.7 597.5,3040.2 601.0,3035.5 602.7,3030.8 604.4,3023.4 606.9,3004.4 609.5,2971.5 611.2,2940.2 614.6,2855.2 624.9,2542.9 630.8,2408.8 633.4,2369.7 636.0,2341.9 638.5,2325.6 639.4,2322.8 640.2,2321.4 641.1,2321.1 641.9,2322.0 643.6,2326.8 646.2,2339.8 659.0,2426.0 662.4,2455.1 665.0,2485.9 668.4,2541.5 671.8,2614.7 681.2,2870.3 684.6,2947.3 688.0,2996.7 689.7,3011.4 692.3,3024.6 694.9,3031.0 698.3,3034.4 703.4,3035.8 715.4,3036.2 784.5,3034.8 818.7,3033.1 830.6,3031.7 840.0,3029.9 846.0,3027.6 849.4,3024.6 851.1,3021.5 852.8,3015.8 855.4,2997.9 857.1,2975.1 858.8,2939.9 862.2,2828.3 869.0,2533.5 873.3,2380.9 875.9,2313.3 878.4,2265.5 881.0,2238.5 882.7,2232.5 883.6,2233.3 884.4,2236.5 887.0,2260.8 889.5,2305.9 892.1,2371.0 896.4,2520.3 904.0,2851.8 907.5,2958.6 909.2,2991.2 911.7,3018.9 914.3,3031.3 916.0,3035.3 917.7,3037.8 922.0,3041.2 930.5,3045.1 941.6,3048.9 955.3,3052.5 981.7,3057.7 1028.7,3064.1 1050.9,3065.4 1066.3,3064.6 1069.7,3063.5 1072.2,3061.8 1074.8,3058.1 1076.5,3053.7 1079.1,3041.9 1081.6,3020.2 1085.9,2951.4 1089.3,2866.0 1098.7,2591.8 1103.8,2476.5 1106.4,2434.5 1108.9,2403.8 1111.5,2384.9 1113.2,2379.3 1114.1,2378.8 1114.9,2379.7 1116.6,2386.1 1119.2,2406.1 1121.7,2437.8 1125.2,2497.5 1130.3,2620.8 1139.7,2895.5 1143.9,2988.2 1145.7,3012.9 1148.2,3037.8 1150.8,3051.7 1152.5,3056.9 1154.2,3060.2 1156.8,3062.9 1160.2,3064.5 1184.9,3070.1 1206.3,3077.0 1261.8,3100.0 1281.4,3107.3 1329.2,3121.2 1379.6,3134.8 1438.5,3149.2 1528.1,3168.5 1600.7,3182.5 1669.0,3193.9" fill="none" stroke="#2a2a58" stroke-width="4.0" stroke-linejoin="round"/>
<polyline clip-path="url(#c2)" points="303.0,3057.9 444.7,3053.2 512.2,3050.1 554.0,3047.5 577.1,3045.3 590.7,3043.0 594.1,3041.8 596.7,3040.0 600.1,3034.8 601.8,3029.5 603.5,3021.3 606.1,3000.4 608.6,2965.1 610.4,2931.9 613.8,2844.3 623.2,2558.0 629.1,2420.8 631.7,2380.0 634.3,2350.5 636.8,2332.5 637.7,2329.0 639.4,2326.1 640.2,2326.4 641.1,2327.9 642.8,2333.6 647.9,2366.2 657.3,2445.2 661.6,2494.5 665.0,2549.2 668.4,2619.3 677.8,2865.1 681.2,2942.0 682.9,2971.0 685.5,3001.7 687.2,3014.8 689.7,3026.4 692.3,3032.0 694.0,3034.0 696.6,3035.4 702.6,3036.4 716.2,3036.5 787.9,3034.8 819.5,3033.0 831.5,3031.6 840.9,3029.4 846.0,3027.1 848.5,3024.3 851.1,3017.8 853.7,3002.2 855.4,2982.1 857.1,2950.4 860.5,2845.8 868.2,2519.6 872.5,2372.9 875.0,2309.3 877.6,2265.6 880.1,2242.9 881.0,2240.1 881.8,2239.9 883.6,2246.9 886.1,2275.3 888.7,2324.5 891.2,2393.3 895.5,2547.8 902.3,2842.8 905.7,2952.8 907.5,2987.3 910.0,3017.1 912.6,3030.5 914.3,3034.8 916.0,3037.5 920.3,3041.0 928.8,3044.9 940.8,3048.9 955.3,3052.7 982.6,3057.9 1031.2,3064.3 1052.6,3065.4 1061.1,3065.1 1066.3,3064.3 1069.7,3062.9 1072.2,3060.3 1073.9,3057.3 1075.6,3052.3 1078.2,3039.1 1079.9,3024.7 1082.5,2991.6 1084.2,2960.6 1087.6,2878.6 1097.0,2605.5 1103.0,2472.2 1105.5,2432.5 1108.1,2404.2 1110.6,2387.8 1112.4,2384.0 1113.2,2384.3 1114.9,2389.5 1117.5,2407.8 1120.0,2438.0 1123.5,2495.6 1128.6,2616.2 1138.0,2889.4 1142.2,2984.1 1143.9,3009.8 1146.5,3035.9 1149.1,3050.7 1150.8,3056.3 1152.5,3059.8 1155.0,3062.7 1158.5,3064.4 1184.1,3069.9 1206.3,3077.0 1261.8,3100.1 1281.4,3107.3 1330.1,3121.4 1380.4,3135.0 1439.3,3149.4 1529.0,3168.7 1601.6,3182.7 1669.0,3193.9" fill="none" stroke="#4a5c84" stroke-width="4.0" stroke-linejoin="round"/>
<polyline clip-path="url(#c2)" points="303.0,3057.9 443.9,3053.2 511.3,3050.1 554.0,3047.5 577.1,3045.3 591.6,3042.9 595.0,3041.7 597.5,3040.0 601.0,3034.7 602.7,3029.6 604.4,3021.4 606.9,3000.7 609.5,2965.5 611.2,2932.4 614.6,2844.9 624.0,2558.1 630.0,2420.5 632.5,2379.7 635.1,2350.2 637.7,2332.4 638.5,2329.1 640.2,2326.4 641.9,2328.5 643.6,2334.7 647.1,2355.4 659.9,2451.0 664.1,2497.0 667.6,2551.0 671.0,2621.8 680.4,2870.6 683.8,2946.6 687.2,2996.0 688.9,3010.9 691.5,3024.4 693.2,3029.3 695.7,3033.3 699.1,3035.3 704.3,3036.1 720.5,3036.3 782.8,3034.9 809.3,3033.8 817.0,3032.8 818.7,3030.2 820.4,3020.1 824.6,2944.6 825.5,2934.9 826.3,2932.5 828.1,2949.9 831.5,3013.1 833.2,3026.6 834.9,3030.2 837.4,3030.4 845.1,3027.9 847.7,3026.2 849.4,3024.1 852.0,3017.6 854.5,3002.0 856.2,2981.9 857.9,2950.0 861.4,2845.0 869.0,2517.1 873.3,2369.5 875.9,2305.4 878.4,2261.2 881.0,2238.0 881.8,2235.1 882.7,2234.7 884.4,2241.3 887.0,2269.3 889.5,2318.1 892.1,2386.6 896.4,2540.7 903.2,2837.4 906.6,2949.7 908.3,2985.2 910.9,3016.1 913.4,3030.0 915.1,3034.6 916.8,3037.3 921.1,3040.9 929.7,3045.0 940.8,3048.7 955.3,3052.6 982.6,3057.9 1031.2,3064.3 1052.6,3065.4 1061.1,3065.2 1067.1,3064.3 1070.5,3062.8 1073.1,3060.2 1074.8,3057.1 1076.5,3052.1 1079.1,3038.9 1080.8,3024.4 1083.3,2990.9 1085.0,2959.7 1088.5,2877.0 1097.8,2602.3 1103.8,2468.2 1106.4,2428.2 1108.9,2399.6 1111.5,2382.8 1113.2,2378.8 1114.1,2379.1 1115.8,2384.1 1118.3,2402.2 1120.9,2432.1 1124.3,2489.5 1129.4,2610.0 1139.7,2907.3 1143.1,2981.4 1145.7,3018.4 1148.2,3040.9 1150.8,3053.3 1152.5,3057.9 1154.2,3060.8 1156.8,3063.2 1160.2,3064.6 1184.1,3069.9 1205.4,3076.7 1262.6,3100.4 1282.3,3107.6 1331.8,3121.9 1382.1,3135.5 1440.2,3149.6 1529.8,3168.9 1601.6,3182.7 1669.0,3193.9" fill="none" stroke="#33573c" stroke-width="4.0" stroke-linejoin="round"/>
<polyline clip-path="url(#c2)" points="303.0,3057.9 444.7,3053.2 510.5,3050.1 552.3,3047.5 574.5,3045.4 589.0,3042.9 592.4,3041.7 595.0,3039.9 598.4,3034.6 600.1,3029.4 601.8,3021.1 604.4,3000.0 606.9,2964.1 608.6,2930.2 612.1,2840.5 621.4,2546.8 627.4,2405.3 630.0,2363.0 632.5,2332.2 635.1,2313.0 636.0,2309.3 637.7,2306.0 638.5,2306.3 639.4,2307.8 641.1,2314.0 645.4,2344.0 654.7,2440.1 659.9,2504.3 663.3,2560.5 666.7,2630.3 676.1,2869.7 679.5,2944.2 681.2,2972.3 683.8,3002.2 685.5,3015.0 688.0,3026.5 690.6,3032.1 692.3,3034.0 694.9,3035.5 700.8,3036.4 712.8,3036.6 785.4,3034.8 817.0,3033.1 828.9,3031.7 838.3,3029.8 843.4,3027.8 846.8,3024.8 849.4,3019.0 852.0,3005.1 854.5,2973.9 856.2,2938.1 859.6,2825.9 866.5,2533.2 870.7,2382.8 873.3,2316.6 875.9,2270.2 878.4,2244.7 879.3,2240.9 880.1,2239.7 881.0,2241.0 881.8,2244.7 884.4,2270.3 887.0,2316.7 889.5,2383.0 893.8,2533.8 901.5,2862.3 904.9,2964.4 906.6,2994.9 908.3,3014.1 910.9,3029.0 912.6,3033.9 914.3,3036.8 918.6,3040.5 926.2,3044.2 937.3,3048.0 951.9,3052.0 980.0,3057.6 1027.8,3063.9 1050.0,3065.3 1058.6,3065.1 1064.5,3064.3 1068.0,3062.9 1070.5,3060.6 1072.2,3057.7 1073.9,3053.0 1076.5,3040.5 1079.1,3017.7 1083.3,2946.6 1096.1,2585.0 1101.3,2470.8 1103.8,2429.6 1106.4,2399.6 1108.9,2381.5 1110.6,2376.5 1111.5,2376.3 1112.4,2377.5 1114.1,2384.5 1116.6,2405.3 1119.2,2437.8 1122.6,2498.5 1127.7,2623.2 1137.1,2898.5 1141.4,2990.3 1143.1,3014.5 1145.7,3038.7 1148.2,3052.1 1149.9,3057.2 1151.6,3060.3 1154.2,3062.9 1157.6,3064.5 1182.4,3069.5 1204.6,3076.4 1221.6,3083.1 1262.6,3100.4 1282.3,3107.6 1332.6,3122.1 1383.0,3135.7 1440.2,3149.6 1530.7,3169.1 1602.4,3182.8 1669.0,3193.9" fill="none" stroke="#93ad4c" stroke-width="9.0" stroke-linejoin="round"/>
<polyline clip-path="url(#c2)" points="303.0,3057.9 440.5,3053.4 507.0,3050.4 549.7,3047.8 573.6,3045.6 588.2,3043.3 591.6,3042.2 594.1,3040.6 597.5,3036.0 599.3,3031.5 601.0,3024.2 603.5,3005.3 606.1,2972.6 607.8,2941.1 611.2,2855.5 621.4,2538.8 627.4,2401.8 630.0,2361.5 632.5,2332.7 635.1,2315.8 636.0,2312.9 636.8,2311.5 637.7,2311.4 638.5,2312.6 640.2,2318.7 643.6,2343.5 647.1,2381.7 651.3,2443.0 659.9,2600.2 674.4,2935.8 678.7,2995.9 681.2,3015.8 683.8,3026.9 686.3,3032.5 688.0,3034.5 690.6,3036.0 695.7,3037.0 706.8,3037.1 787.9,3034.9 817.8,3033.3 829.8,3032.0 839.2,3030.0 844.3,3027.8 846.8,3025.1 849.4,3019.0 852.0,3004.1 853.7,2984.8 855.4,2954.4 858.8,2853.5 866.5,2534.1 870.7,2389.8 875.0,2296.6 877.6,2267.8 879.3,2260.6 880.1,2260.7 881.0,2263.2 883.6,2285.5 886.1,2328.6 888.7,2391.6 892.9,2537.0 900.6,2859.3 904.0,2962.2 905.7,2993.5 908.3,3020.1 910.9,3032.0 912.6,3035.8 914.3,3038.2 918.6,3041.4 927.1,3045.1 939.0,3048.9 954.4,3052.8 981.7,3058.0 1030.4,3064.4 1050.9,3065.5 1059.4,3065.3 1064.5,3064.6 1068.0,3063.3 1070.5,3060.9 1072.2,3058.0 1073.9,3053.3 1076.5,3040.9 1079.1,3018.5 1083.3,2949.1 1095.3,2621.4 1101.3,2490.3 1103.8,2451.4 1106.4,2423.7 1108.9,2407.9 1110.6,2404.5 1111.5,2405.1 1113.2,2410.6 1115.8,2429.4 1118.3,2459.9 1121.7,2517.8 1126.9,2637.9 1136.3,2903.9 1140.5,2992.5 1142.2,3016.0 1144.8,3039.5 1147.4,3052.7 1149.1,3057.6 1150.8,3060.8 1153.3,3063.3 1156.8,3064.8 1183.2,3069.4 1206.3,3075.7 1262.6,3095.7 1282.3,3101.9 1336.9,3115.8 1388.1,3128.1 1444.5,3140.5 1532.4,3157.9 1603.3,3170.5 1669.0,3180.9" fill="none" stroke="#dcd69c" stroke-width="4.0" stroke-linejoin="round"/>
<polyline clip-path="url(#c2)" points="303.0,3057.9 441.3,3053.4 508.8,3050.3 551.4,3047.8 574.5,3045.6 588.2,3043.4 591.6,3042.2 594.1,3040.6 597.5,3035.6 599.3,3030.6 601.0,3022.7 603.5,3002.6 606.1,2968.1 607.8,2935.4 611.2,2848.3 620.6,2559.0 626.6,2418.8 629.1,2376.8 631.7,2346.4 634.3,2327.8 635.1,2324.3 636.0,2322.3 636.8,2321.6 637.7,2322.3 639.4,2327.6 642.8,2351.2 646.2,2389.0 649.6,2437.4 654.7,2524.1 659.0,2608.8 673.5,2937.4 677.8,2996.3 680.4,3016.0 682.9,3027.0 685.5,3032.7 688.9,3035.8 694.0,3037.1 703.4,3037.4 787.9,3034.9 816.1,3033.5 828.1,3032.2 837.4,3030.5 842.6,3028.7 846.0,3025.9 847.7,3023.0 849.4,3017.6 852.0,3000.6 853.7,2979.1 855.4,2945.8 858.8,2839.5 865.6,2554.5 869.9,2406.2 872.5,2340.8 875.0,2295.1 877.6,2270.1 878.4,2266.5 879.3,2265.5 880.1,2266.9 881.0,2270.7 883.6,2296.8 886.1,2343.4 888.7,2409.8 892.9,2559.7 899.8,2847.3 903.2,2954.7 904.9,2988.4 907.5,3017.8 910.0,3031.0 911.7,3035.3 913.4,3037.9 917.7,3041.2 925.4,3044.7 936.5,3048.3 951.0,3052.1 979.2,3057.7 1024.4,3063.8 1046.6,3065.6 1062.8,3065.1 1066.3,3064.2 1068.8,3062.7 1071.4,3059.5 1073.1,3055.6 1075.6,3045.2 1078.2,3026.1 1082.5,2964.4 1085.9,2886.0 1095.3,2625.7 1101.3,2499.7 1103.8,2462.9 1106.4,2437.4 1108.9,2423.9 1109.8,2422.3 1110.6,2422.1 1111.5,2423.5 1113.2,2430.5 1115.8,2451.4 1118.3,2483.7 1120.9,2526.9 1126.0,2643.2 1135.4,2903.5 1139.7,2991.5 1141.4,3015.1 1143.9,3039.0 1146.5,3052.4 1148.2,3057.6 1149.9,3060.8 1152.5,3063.4 1155.9,3064.9 1181.5,3068.7 1202.0,3073.1 1282.3,3096.2 1364.2,3114.5 1410.3,3124.1 1472.6,3135.2 1546.9,3147.1 1610.1,3156.0 1669.0,3162.9" fill="none" stroke="#e39a3f" stroke-width="9.0" stroke-linejoin="round"/>
<polyline clip-path="url(#c2)" points="303.0,3055.9 436.2,3051.6 550.6,3046.1 573.6,3044.2 588.2,3042.2 594.1,3039.9 597.5,3035.7 600.1,3028.8 602.7,3015.2 605.2,2990.7 606.9,2966.4 611.2,2874.8 620.6,2605.3 625.7,2486.6 629.1,2430.5 631.7,2401.4 634.3,2383.7 635.1,2380.5 636.0,2378.6 636.8,2378.0 638.5,2380.5 640.2,2387.4 643.6,2411.7 647.9,2456.4 652.2,2512.2 656.5,2580.4 659.9,2646.6 672.7,2940.7 676.9,2999.4 678.7,3012.9 681.2,3025.2 683.8,3031.3 686.3,3034.0 689.7,3035.4 696.6,3035.9 820.4,3032.2 839.2,3030.2 843.4,3028.8 846.0,3026.7 848.5,3021.6 851.1,3009.3 853.7,2982.2 855.4,2951.7 858.8,2856.8 865.6,2606.4 869.0,2501.1 873.3,2412.5 875.9,2385.3 877.6,2378.9 878.4,2379.3 879.3,2382.1 881.8,2404.8 886.1,2486.7 890.4,2617.1 897.2,2869.9 900.6,2963.8 902.3,2993.6 904.9,3020.0 907.5,3032.1 909.2,3036.1 910.9,3038.4 915.1,3041.3 922.8,3044.0 952.7,3051.4 979.2,3056.2 1026.1,3062.5 1048.3,3064.3 1063.7,3064.2 1067.1,3063.5 1069.7,3062.3 1072.2,3059.7 1073.9,3056.6 1076.5,3048.4 1079.1,3033.4 1081.6,3008.3 1083.3,2984.8 1086.7,2921.5 1096.1,2700.1 1100.4,2617.4 1103.0,2580.0 1105.5,2553.0 1108.1,2537.1 1109.8,2533.3 1110.6,2533.6 1112.4,2538.3 1114.9,2555.5 1117.5,2583.7 1120.0,2622.2 1124.3,2706.4 1133.7,2927.3 1138.0,3000.5 1140.5,3027.9 1143.1,3044.6 1145.7,3053.9 1149.1,3059.5 1151.6,3061.2 1155.0,3062.1 1181.5,3064.6 1202.0,3067.4 1281.4,3082.6 1424.8,3105.6 1553.7,3122.8 1669.0,3136.0" fill="none" stroke="#cc7838" stroke-width="9.0" stroke-linejoin="round"/>
<polyline clip-path="url(#c2)" points="303.0,3046.0 456.7,3040.3 765.7,3024.7 838.3,3021.6 964.7,3018.1 1082.5,3018.7 1108.9,3019.3 1132.8,3020.7 1186.6,3025.7 1422.3,3044.7 1669.0,3065.5" fill="none" stroke="#c0262a" stroke-width="9.0" stroke-linejoin="round"/>
<polyline clip-path="url(#c2)" points="303.0,3040.0 456.7,3034.3 765.7,3018.7 838.3,3015.6 964.7,3012.1 1082.5,3012.7 1108.9,3013.3 1132.8,3014.7 1186.6,3019.7 1422.3,3038.7 1669.0,3059.5" fill="none" stroke="#000000" stroke-width="9.5" stroke-linejoin="round"/>
<rect x="303.0" y="32.5" width="1366.0" height="1024.5" fill="none" stroke="#000" stroke-width="4.6"/>
<path d="M530.7 1057.0V1027.0 M530.7 32.5V62.5 M758.3 1057.0V1027.0 M758.3 32.5V62.5 M986.0 1057.0V1027.0 M986.0 32.5V62.5 M1213.7 1057.0V1027.0 M1213.7 32.5V62.5 M1441.3 1057.0V1027.0 M1441.3 32.5V62.5 M303.0 967.7H319.0 M1669.0 967.7H1653.0 M303.0 903.7H319.0 M1669.0 903.7H1653.0 M303.0 854.1H319.0 M1669.0 854.1H1653.0 M303.0 813.6H319.0 M1669.0 813.6H1653.0 M303.0 779.3H319.0 M1669.0 779.3H1653.0 M303.0 749.6H319.0 M1669.0 749.6H1653.0 M303.0 723.4H319.0 M1669.0 723.4H1653.0 M303.0 700.0H333.0 M1669.0 700.0H1639.0 M303.0 545.9H319.0 M1669.0 545.9H1653.0 M303.0 455.7H319.0 M1669.0 455.7H1653.0 M303.0 391.7H319.0 M1669.0 391.7H1653.0 M303.0 342.1H319.0 M1669.0 342.1H1653.0 M303.0 301.6H319.0 M1669.0 301.6H1653.0 M303.0 267.3H319.0 M1669.0 267.3H1653.0 M303.0 237.6H319.0 M1669.0 237.6H1653.0 M303.0 211.4H319.0 M1669.0 211.4H1653.0 M303.0 188.0H333.0 M1669.0 188.0H1639.0 M303.0 33.9H319.0 M1669.0 33.9H1653.0" stroke="#000" stroke-width="4.2" fill="none"/>
<text x="239" y="195.0" font-size="64" text-anchor="end">10</text>
<text x="242" y="167.0" font-size="46">4</text>
<text x="239" y="707.0" font-size="64" text-anchor="end">10</text>
<text x="242" y="679.0" font-size="46">3</text>
<text x="1253.5" y="209.3" font-size="99" letter-spacing="-2.5">G15</text>
<rect x="303.0" y="1119.0" width="1366.0" height="1024.0" fill="none" stroke="#000" stroke-width="4.6"/>
<path d="M530.7 2143.0V2113.0 M530.7 1119.0V1149.0 M758.3 2143.0V2113.0 M758.3 1119.0V1149.0 M986.0 2143.0V2113.0 M986.0 1119.0V1149.0 M1213.7 2143.0V2113.0 M1213.7 1119.0V1149.0 M1441.3 2143.0V2113.0 M1441.3 1119.0V1149.0 M303.0 1988.9H319.0 M1669.0 1988.9H1653.0 M303.0 1898.7H319.0 M1669.0 1898.7H1653.0 M303.0 1834.7H319.0 M1669.0 1834.7H1653.0 M303.0 1785.1H319.0 M1669.0 1785.1H1653.0 M303.0 1744.6H319.0 M1669.0 1744.6H1653.0 M303.0 1710.3H319.0 M1669.0 1710.3H1653.0 M303.0 1680.6H319.0 M1669.0 1680.6H1653.0 M303.0 1654.4H319.0 M1669.0 1654.4H1653.0 M303.0 1631.0H333.0 M1669.0 1631.0H1639.0 M303.0 1476.9H319.0 M1669.0 1476.9H1653.0 M303.0 1386.7H319.0 M1669.0 1386.7H1653.0 M303.0 1322.7H319.0 M1669.0 1322.7H1653.0 M303.0 1273.1H319.0 M1669.0 1273.1H1653.0 M303.0 1232.6H319.0 M1669.0 1232.6H1653.0 M303.0 1198.3H319.0 M1669.0 1198.3H1653.0 M303.0 1168.6H319.0 M1669.0 1168.6H1653.0 M303.0 1142.4H319.0 M1669.0 1142.4H1653.0 M303.0 1119.0H333.0 M1669.0 1119.0H1639.0" stroke="#000" stroke-width="4.2" fill="none"/>
<text x="239" y="1126.0" font-size="64" text-anchor="end">10</text>
<text x="242" y="1098.0" font-size="46">4</text>
<text x="239" y="1638.0" font-size="64" text-anchor="end">10</text>
<text x="242" y="1610.0" font-size="46">3</text>
<text x="239" y="2150.0" font-size="64" text-anchor="end">10</text>
<text x="242" y="2122.0" font-size="46">2</text>
<text x="1253.5" y="1299.0" font-size="99" letter-spacing="-2.5">G25</text>
<rect x="303.0" y="2207.0" width="1366.0" height="1021.0" fill="none" stroke="#000" stroke-width="4.6"/>
<path d="M530.7 3228.0V3198.0 M530.7 2207.0V2237.0 M758.3 3228.0V3198.0 M758.3 2207.0V2237.0 M986.0 3228.0V3198.0 M986.0 2207.0V2237.0 M1213.7 3228.0V3198.0 M1213.7 2207.0V2237.0 M1441.3 3228.0V3198.0 M1441.3 2207.0V2237.0 M303.0 3187.8H319.0 M1669.0 3187.8H1653.0 M303.0 3147.1H319.0 M1669.0 3147.1H1653.0 M303.0 3112.6H319.0 M1669.0 3112.6H1653.0 M303.0 3082.7H319.0 M1669.0 3082.7H1653.0 M303.0 3056.4H319.0 M1669.0 3056.4H1653.0 M303.0 3032.8H333.0 M1669.0 3032.8H1639.0 M303.0 2877.8H319.0 M1669.0 2877.8H1653.0 M303.0 2787.1H319.0 M1669.0 2787.1H1653.0 M303.0 2722.7H319.0 M1669.0 2722.7H1653.0 M303.0 2672.8H319.0 M1669.0 2672.8H1653.0 M303.0 2632.1H319.0 M1669.0 2632.1H1653.0 M303.0 2597.6H319.0 M1669.0 2597.6H1653.0 M303.0 2567.7H319.0 M1669.0 2567.7H1653.0 M303.0 2541.4H319.0 M1669.0 2541.4H1653.0 M303.0 2517.8H333.0 M1669.0 2517.8H1639.0 M303.0 2362.8H319.0 M1669.0 2362.8H1653.0 M303.0 2272.1H319.0 M1669.0 2272.1H1653.0 M303.0 2207.7H319.0 M1669.0 2207.7H1653.0" stroke="#000" stroke-width="4.2" fill="none"/>
<text x="239" y="2524.8" font-size="64" text-anchor="end">10</text>
<text x="242" y="2496.8" font-size="46">4</text>
<text x="239" y="3039.8" font-size="64" text-anchor="end">10</text>
<text x="242" y="3011.8" font-size="46">3</text>
<text x="1253.5" y="2391.3" font-size="99" letter-spacing="-2.5">G100</text>
<text transform="translate(110.5,917.7) rotate(-90)" font-size="85"><tspan font-style="italic">I</tspan>(<tspan font-style="italic">q</tspan>)</text>
<text transform="translate(110.5,722.7) rotate(-90)" font-size="85" textLength="408" lengthAdjust="spacing">(arb. units)</text>
<text transform="translate(110.5,2004.0) rotate(-90)" font-size="85"><tspan font-style="italic">I</tspan>(<tspan font-style="italic">q</tspan>)</text>
<text transform="translate(110.5,1809.0) rotate(-90)" font-size="85" textLength="408" lengthAdjust="spacing">(arb. units)</text>
<text transform="translate(110.5,3086.0) rotate(-90)" font-size="85"><tspan font-style="italic">I</tspan>(<tspan font-style="italic">q</tspan>)</text>
<text transform="translate(110.5,2891.0) rotate(-90)" font-size="85" textLength="408" lengthAdjust="spacing">(arb. units)</text>
<text x="300.0" y="3326.5" font-size="67" text-anchor="middle">1.4</text>
<text x="527.7" y="3326.5" font-size="67" text-anchor="middle">1.5</text>
<text x="755.3" y="3326.5" font-size="67" text-anchor="middle">1.6</text>
<text x="983.0" y="3326.5" font-size="67" text-anchor="middle">1.7</text>
<text x="1210.7" y="3326.5" font-size="67" text-anchor="middle">1.8</text>
<text x="1438.3" y="3326.5" font-size="67" text-anchor="middle">1.9</text>
<text x="1666.0" y="3326.5" font-size="67" text-anchor="middle">2.0</text>
<text x="796" y="3435" font-size="87" font-style="italic">q</text>
<text x="913" y="3435" font-size="87">(Å</text>
<text x="995.6" y="3383" font-size="60">-1</text>
<text x="1053" y="3435" font-size="87">)</text>
<rect x="1708" y="1080.5" width="440.5" height="1142.5" fill="none" stroke="#000" stroke-width="3.2"/>
<line x1="1738.5" y1="1139.8" x2="1908.5" y2="1139.8" stroke="#7430a8" stroke-width="9.0"/>
<line x1="1738.5" y1="1139.8" x2="1766" y2="1139.8" stroke="#5e4470" stroke-width="9.0"/>
<text x="1922" y="1156.8" font-size="63" letter-spacing="3"><tspan fill="#666" stroke="#666" stroke-width="1.6">-</tspan><tspan fill="#654080">40</tspan></text>
<text x="2043" y="1156.8" font-size="63" fill="#654080" letter-spacing="4">°C</text>
<line x1="1738.5" y1="1253.6" x2="1908.5" y2="1253.6" stroke="#2a2a58" stroke-width="4.0"/>
<text x="1922" y="1270.6" font-size="63" letter-spacing="3"><tspan fill="#666" stroke="#666" stroke-width="1.6">-</tspan><tspan fill="#25275e">35</tspan></text>
<line x1="1738.5" y1="1367.4" x2="1908.5" y2="1367.4" stroke="#4a5c84" stroke-width="4.0"/>
<text x="1922" y="1384.4" font-size="63" letter-spacing="3"><tspan fill="#666" stroke="#666" stroke-width="1.6">-</tspan><tspan fill="#4d6487">30</tspan></text>
<line x1="1738.5" y1="1481.2" x2="1908.5" y2="1481.2" stroke="#33573c" stroke-width="4.0"/>
<text x="1922" y="1498.2" font-size="63" letter-spacing="3"><tspan fill="#666" stroke="#666" stroke-width="1.6">-</tspan><tspan fill="#2f5a3c">25</tspan></text>
<line x1="1738.5" y1="1595.0" x2="1908.5" y2="1595.0" stroke="#93ad4c" stroke-width="9.0"/>
<line x1="1738.5" y1="1595.0" x2="1766" y2="1595.0" stroke="#8c9870" stroke-width="9.0"/>
<text x="1922" y="1612.0" font-size="63" letter-spacing="3"><tspan fill="#666" stroke="#666" stroke-width="1.6">-</tspan><tspan fill="#9aa070">20</tspan></text>
<line x1="1738.5" y1="1708.8" x2="1908.5" y2="1708.8" stroke="#dcd69c" stroke-width="4.0"/>
<text x="1922" y="1725.8" font-size="63" letter-spacing="3"><tspan fill="#666" stroke="#666" stroke-width="1.6">-</tspan><tspan fill="#d8d29a">15</tspan></text>
<line x1="1738.5" y1="1822.6" x2="1908.5" y2="1822.6" stroke="#e39a3f" stroke-width="9.0"/>
<line x1="1738.5" y1="1822.6" x2="1766" y2="1822.6" stroke="#a88c74" stroke-width="9.0"/>
<text x="1922" y="1839.6" font-size="63" letter-spacing="3"><tspan fill="#666" stroke="#666" stroke-width="1.6">-</tspan><tspan fill="#b09a68">10</tspan></text>
<line x1="1738.5" y1="1936.4" x2="1908.5" y2="1936.4" stroke="#cc7838" stroke-width="9.0"/>
<line x1="1738.5" y1="1936.4" x2="1766" y2="1936.4" stroke="#a08070" stroke-width="9.0"/>
<text x="1922" y="1953.4" font-size="63" letter-spacing="3"><tspan fill="#666" stroke="#666" stroke-width="1.6">-</tspan><tspan fill="#a88058">5</tspan></text>
<line x1="1738.5" y1="2050.2" x2="1908.5" y2="2050.2" stroke="#c0262a" stroke-width="9.0"/>
<line x1="1738.5" y1="2050.2" x2="1766" y2="2050.2" stroke="#c42a52" stroke-width="9.0"/>
<text x="1922" y="2067.2" font-size="63" fill="#8e3b45" letter-spacing="3">0</text>
<line x1="1738.5" y1="2164.0" x2="1908.5" y2="2164.0" stroke="#000000" stroke-width="9.5"/>
<text x="1922" y="2181.0" font-size="63" fill="#000" letter-spacing="3">25</text>
</svg></body></html>
